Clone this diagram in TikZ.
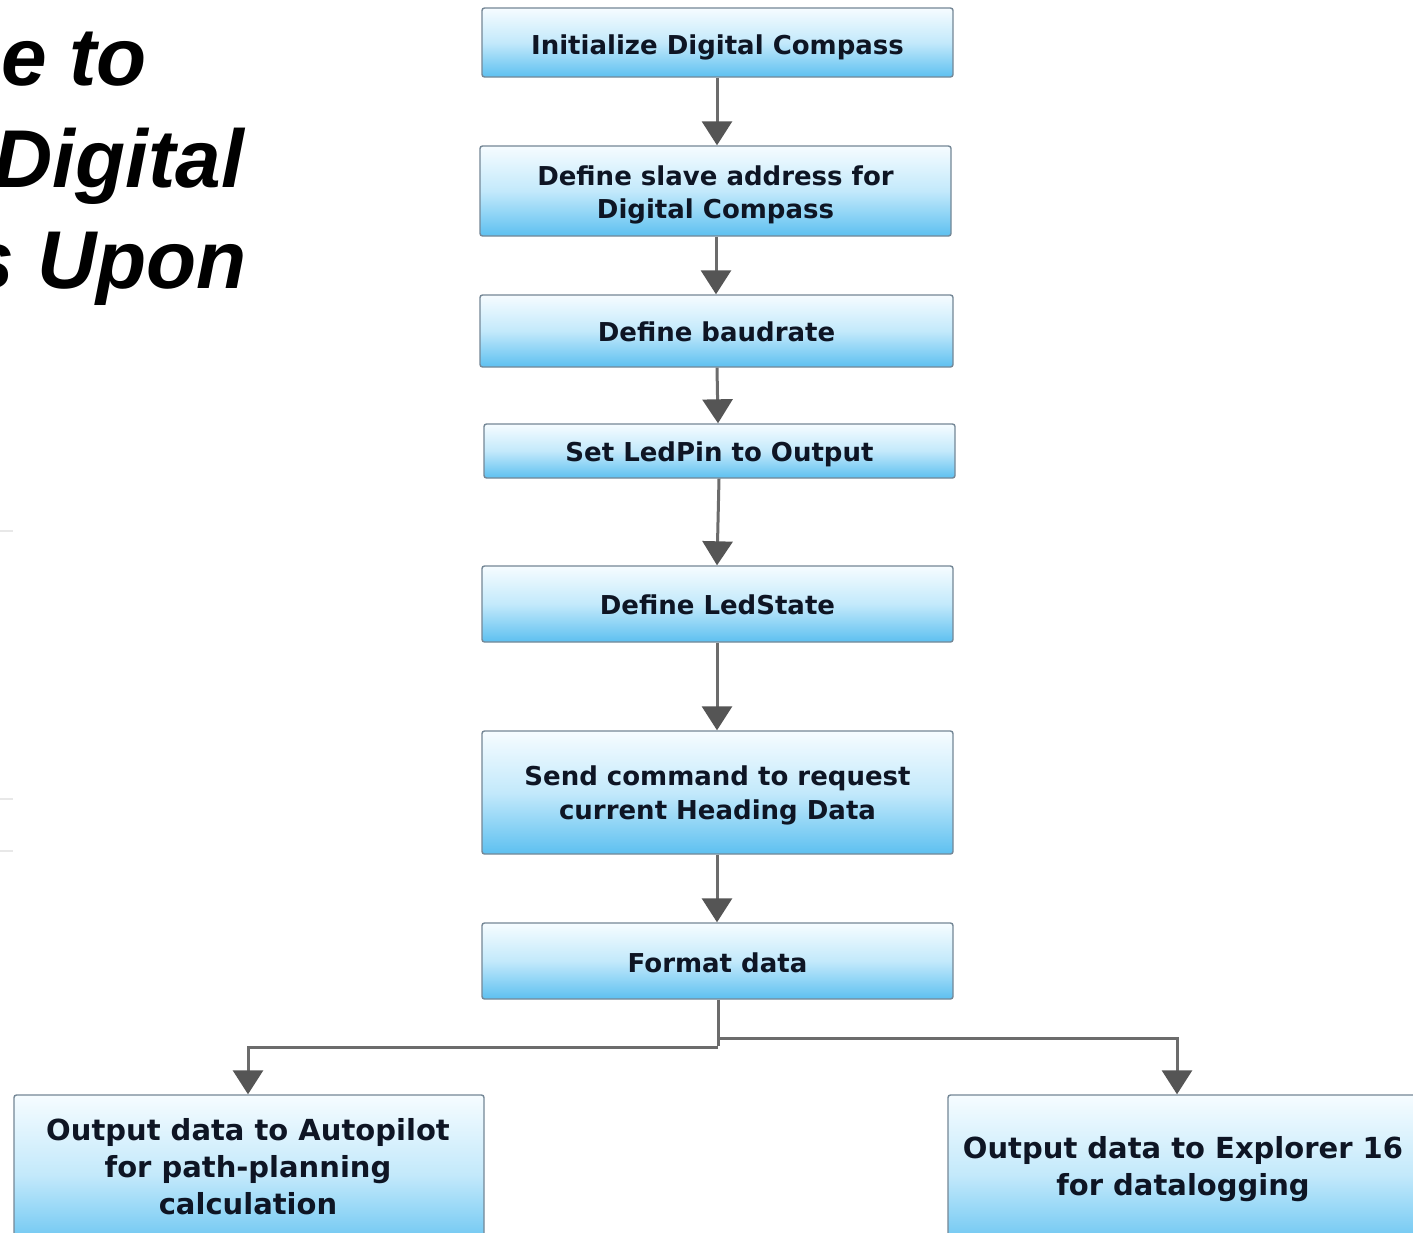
\documentclass[tikz,border=0pt]{standalone}
\usepackage{fontspec}
\setmainfont{DejaVu Sans}
\newfontfamily\titlefont{Liberation Sans}
\usetikzlibrary{arrows.meta}
\definecolor{boxtop}{HTML}{F6FCFF}
\definecolor{boxmid}{HTML}{C3E9FB}
\definecolor{boxbot}{HTML}{5DC0F0}
\definecolor{boxedge}{HTML}{748796}
\definecolor{boxtext}{HTML}{0E1524}
\definecolor{wire}{HTML}{6C6C6C}
\definecolor{tipgray}{HTML}{555555}
\tikzset{
  stepbox/.style={rectangle, rounded corners=2.5pt, draw=boxedge, line width=1.4pt,
    top color=boxtop, bottom color=boxbot, middle color=boxmid, inner sep=0pt},
  steptext/.style={text=boxtext, align=center, inner sep=0pt,
    font=\bfseries\fontsize{26}{33}\selectfont},
  bigtext/.style={steptext, font=\bfseries\fontsize{29}{37}\selectfont},
  flow/.style={draw=wire, line width=3pt,
    -{Triangle[width=30pt,length=24pt,color=tipgray]}},
  wireonly/.style={draw=wire, line width=3pt},
  heading/.style={anchor=base east, inner sep=0pt,
    font=\titlefont\bfseries\itshape\fontsize{82}{98}\selectfont},
  faint/.style={draw=gray!18, line width=2pt}
}
\begin{document}
\begin{tikzpicture}[x=1pt,y=-1pt]
\clip (0,0) rectangle (1413,1232);
\fill[white] (0,0) rectangle (1413,1232);

% heading, cut at the left edge
\node[heading] (h1) at (147,85) {e to};
\node[heading] (h2) at (244,187) {Digital};
\node[heading] (h3) at (247,288) {s Upon};

% faint rules along the left edge
\draw[faint] (0,531) -- (13,531);
\draw[faint] (0,799) -- (13,799);
\draw[faint] (0,851) -- (13,851);

% process boxes
\node[stepbox, minimum width=471pt, minimum height=69pt] (n1) at (717.5,42.5) {};
\node[steptext] (t1) at ([yshift=-5pt]n1.center) {Initialize Digital Compass};
\node[stepbox, minimum width=471pt, minimum height=90pt] (n2) at (715.5,191) {};
\node[steptext] (t2) at ([yshift=-4pt]n2.center) {Define slave address for\\Digital Compass};
\node[stepbox, minimum width=473pt, minimum height=72pt] (n3) at (716.5,331) {};
\node[steptext] (t3) at ([yshift=-1pt]n3.center) {Define baudrate};
\node[stepbox, minimum width=471pt, minimum height=54pt] (n4) at (719.5,451) {};
\node[steptext] (t4) at ([yshift=-3pt]n4.center) {Set LedPin to Output};
\node[stepbox, minimum width=471pt, minimum height=76pt] (n5) at (717.5,604) {};
\node[steptext] (t5) at ([yshift=-1pt]n5.center) {Define LedState};
\node[stepbox, minimum width=471pt, minimum height=123pt] (n6) at (717.5,792.5) {};
\node[steptext, font=\bfseries\fontsize{26}{34}\selectfont] (t6) at ([yshift=-3pt]n6.center) {Send command to request\\current Heading Data};
\node[stepbox, minimum width=471pt, minimum height=76pt] (n7) at (717.5,961) {};
\node[steptext] (t7) at ([yshift=-2pt]n7.center) {Format data};
\node[stepbox, minimum width=470pt, minimum height=160pt] (n8) at (249,1175) {};
\node[bigtext, anchor=north] (t8) at (248,1118) {Output data to Autopilot\\for path-planning\\calculation};
\node[stepbox, minimum width=480pt, minimum height=160pt] (n9) at (1188,1175) {};
\node[bigtext, anchor=north] (t9) at (1183,1136) {Output data to Explorer 16\\for datalogging};

% connectors
\draw[flow] (n1.south -| 717,0) -- (n2.north -| 717,0);
\draw[flow] (n2.south -| 716,0) -- (n3.north -| 716,0);
\draw[flow] (n3.south -| 717,0) -- (n4.north -| 718,0);
\draw[flow] (n4.south -| 719,0) -- (n5.north -| 717,0);
\draw[flow] (n5.south -| 717,0) -- (n6.north -| 717,0);
\draw[flow] (n6.south -| 717,0) -- (n7.north -| 717,0);
\coordinate (split) at (718,1047);
\coordinate (splitr) at (720,1038);
\draw[wireonly] (n7.south -| split) -- ([yshift=1.5pt]split);
\draw[flow] (split) -| (n8.north -| 248,0);
\draw[flow] (splitr) -| (n9.north -| 1177,0);
\end{tikzpicture}
\end{document}
